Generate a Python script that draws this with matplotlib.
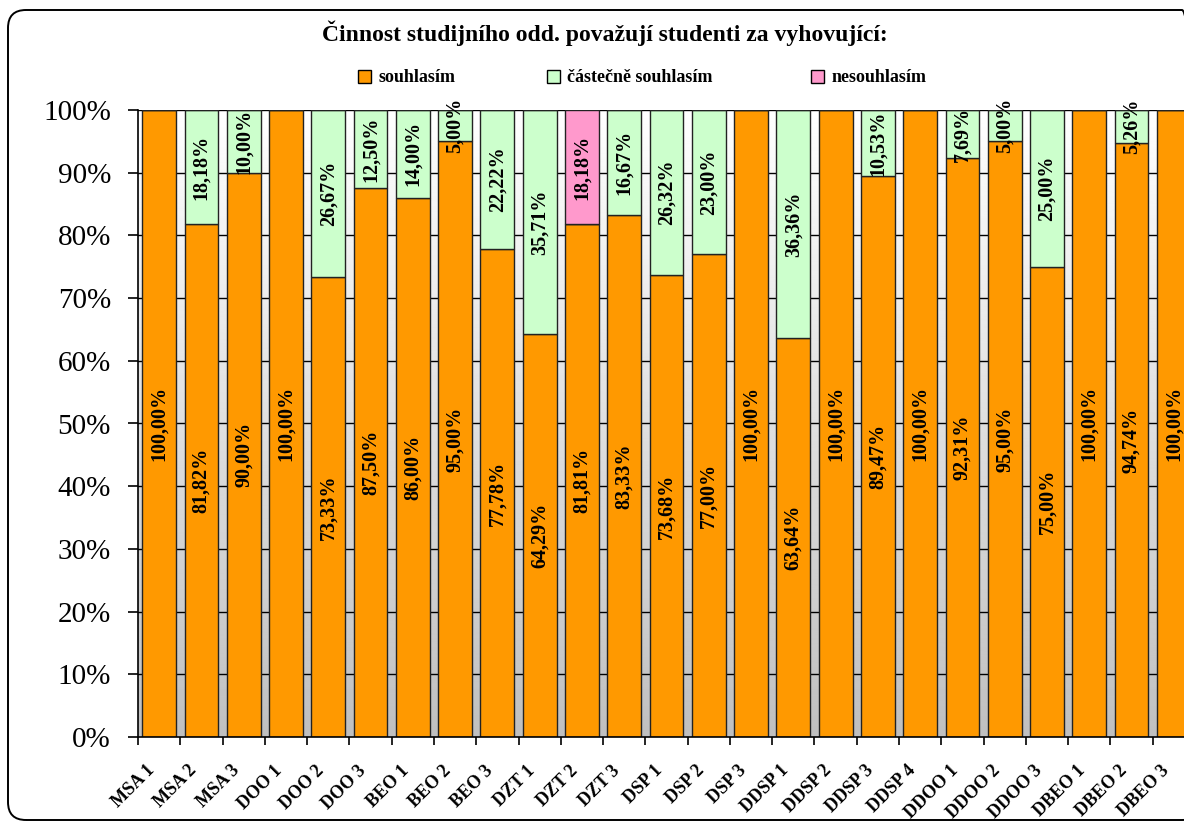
import numpy as np
import matplotlib
matplotlib.use("Agg")
import matplotlib.pyplot as plt
import matplotlib.transforms as mtransforms
from matplotlib.patches import Patch, FancyBboxPatch
from matplotlib.ticker import FixedLocator, PercentFormatter

plt.rcParams["font.family"] = ["Liberation Serif", "DejaVu Serif"]

# ---------------------------------------------------------------------------
# Data
# ---------------------------------------------------------------------------
groups = ["MSA 1", "MSA 2", "MSA 3", "DOO 1", "DOO 2", "DOO 3", "BEO 1",
          "BEO 2", "BEO 3", "DZT 1", "DZT 2", "DZT 3", "DSP 1", "DSP 2",
          "DSP 3", "DDSP 1", "DDSP 2", "DDSP 3", "DDSP 4", "DDOO 1",
          "DDOO 2", "DDOO 3", "DBEO 1", "DBEO 2", "DBEO 3"]
agree = [100.00, 81.82, 90.00, 100.00, 73.33, 87.50, 86.00, 95.00, 77.78,
         64.29, 81.81, 83.33, 73.68, 77.00, 100.00, 63.64, 100.00, 89.47,
         100.00, 92.31, 95.00, 75.00, 100.00, 94.74, 100.00]
partly = [0, 18.18, 10.00, 0, 26.67, 12.50, 14.00, 5.00, 22.22,
          35.71, 0, 16.67, 26.32, 23.00, 0, 36.36, 0, 10.53,
          0, 7.69, 5.00, 25.00, 0, 5.26, 0]
disagree = [0, 0, 0, 0, 0, 0, 0, 0, 0,
            0, 18.18, 0, 0, 0, 0, 0, 0, 0,
            0, 0, 0, 0, 0, 0, 0]

series = [("souhlasím", agree, "#FF9900"),
          ("částečně souhlasím", partly, "#CCFFCC"),
          ("nesouhlasím", disagree, "#FF99CC")]

title = "Činnost studijního odd. považují studenti za vyhovující:"

# ---------------------------------------------------------------------------
# Figure
# ---------------------------------------------------------------------------
W, H = 1184, 821
fig = plt.figure(figsize=(W / 100, H / 100), dpi=100)

# rounded chart frame in inches (its right side runs off the canvas)
frame = FancyBboxPatch((0.08, 0.01), 11.92, 8.10,
                       boxstyle="round,pad=0,rounding_size=0.18",
                       transform=fig.dpi_scale_trans, facecolor="none",
                       edgecolor="black", linewidth=1.4, zorder=5)
fig.patches.append(frame)

ax = fig.add_axes([138 / W, 1 - 737 / H, 1057 / W, (737 - 110) / H])
ax.patch.set_alpha(0)

n = len(groups)
x = np.arange(n)

# gradient plot-area background, white at the top fading to grey
grad = np.linspace(0.75, 1.0, 256).reshape(-1, 1)
ax.imshow(grad, extent=(-0.5, n - 0.5, 0, 100), origin="lower",
          cmap="gray", vmin=0, vmax=1, aspect="auto", zorder=0)

for yv in range(10, 101, 10):
    ax.axhline(yv, color="black", linewidth=1.0, zorder=1)

bottom = np.zeros(n)
for name, vals, color in series:
    vals = np.array(vals, dtype=float)
    ax.bar(x, vals, 0.8, bottom=bottom, color=color, edgecolor="#222222",
           linewidth=1.0, zorder=2, label=name)
    for xi, v, b in zip(x, vals, bottom):
        if v <= 0:
            continue
        ax.text(xi, b + v / 2, f"{v:.2f}".replace(".", ",") + "%",
                rotation=90, ha="center", va="center", fontsize=14.5,
                fontweight="bold", zorder=3, clip_on=False)
    bottom += vals

ax.set_xlim(-0.5, n - 0.5)
ax.set_ylim(0, 100)

ax.yaxis.set_major_locator(FixedLocator(range(0, 101, 10)))
ax.yaxis.set_major_formatter(PercentFormatter(decimals=0))
ax.tick_params(axis="y", labelsize=21, length=7.5, width=1.2, pad=12)

ax.set_xticks(x)
ax.set_xticklabels(groups, rotation=45, ha="right", rotation_mode="anchor",
                   fontsize=13, fontweight="bold")
ax.tick_params(axis="x", which="major", length=0, pad=0)
shift = mtransforms.ScaledTranslation(-0.13, -0.25, fig.dpi_scale_trans)
for lbl in ax.get_xticklabels():
    lbl.set_transform(lbl.get_transform() + shift)
ax.set_xticks(np.arange(n + 1) - 0.5, minor=True)
ax.tick_params(axis="x", which="minor", length=6, width=1.2)

for side in ("top", "right"):
    ax.spines[side].set_visible(False)
for side in ("left", "bottom"):
    ax.spines[side].set_linewidth(1.2)
    ax.spines[side].set_zorder(4)

fig.text(605 / W, 1 - 33 / H, title, ha="center", va="center",
         fontsize=17, fontweight="bold")

# one legend entry per key, each placed at its own spot in the header
legend_x = [358, 547, 811]
for (name, _, color), lx in zip(series, legend_x):
    leg = fig.legend([Patch(facecolor=color, edgecolor="black", linewidth=1.0)],
                     [name], loc="center left",
                     bbox_to_anchor=(lx / W, 1 - 78 / H), frameon=False,
                     prop={"size": 13, "weight": "bold"}, handlelength=0.72,
                     handleheight=0.72, handletextpad=0.4, borderpad=0,
                     borderaxespad=0)

fig.savefig("out.png", dpi=100)
